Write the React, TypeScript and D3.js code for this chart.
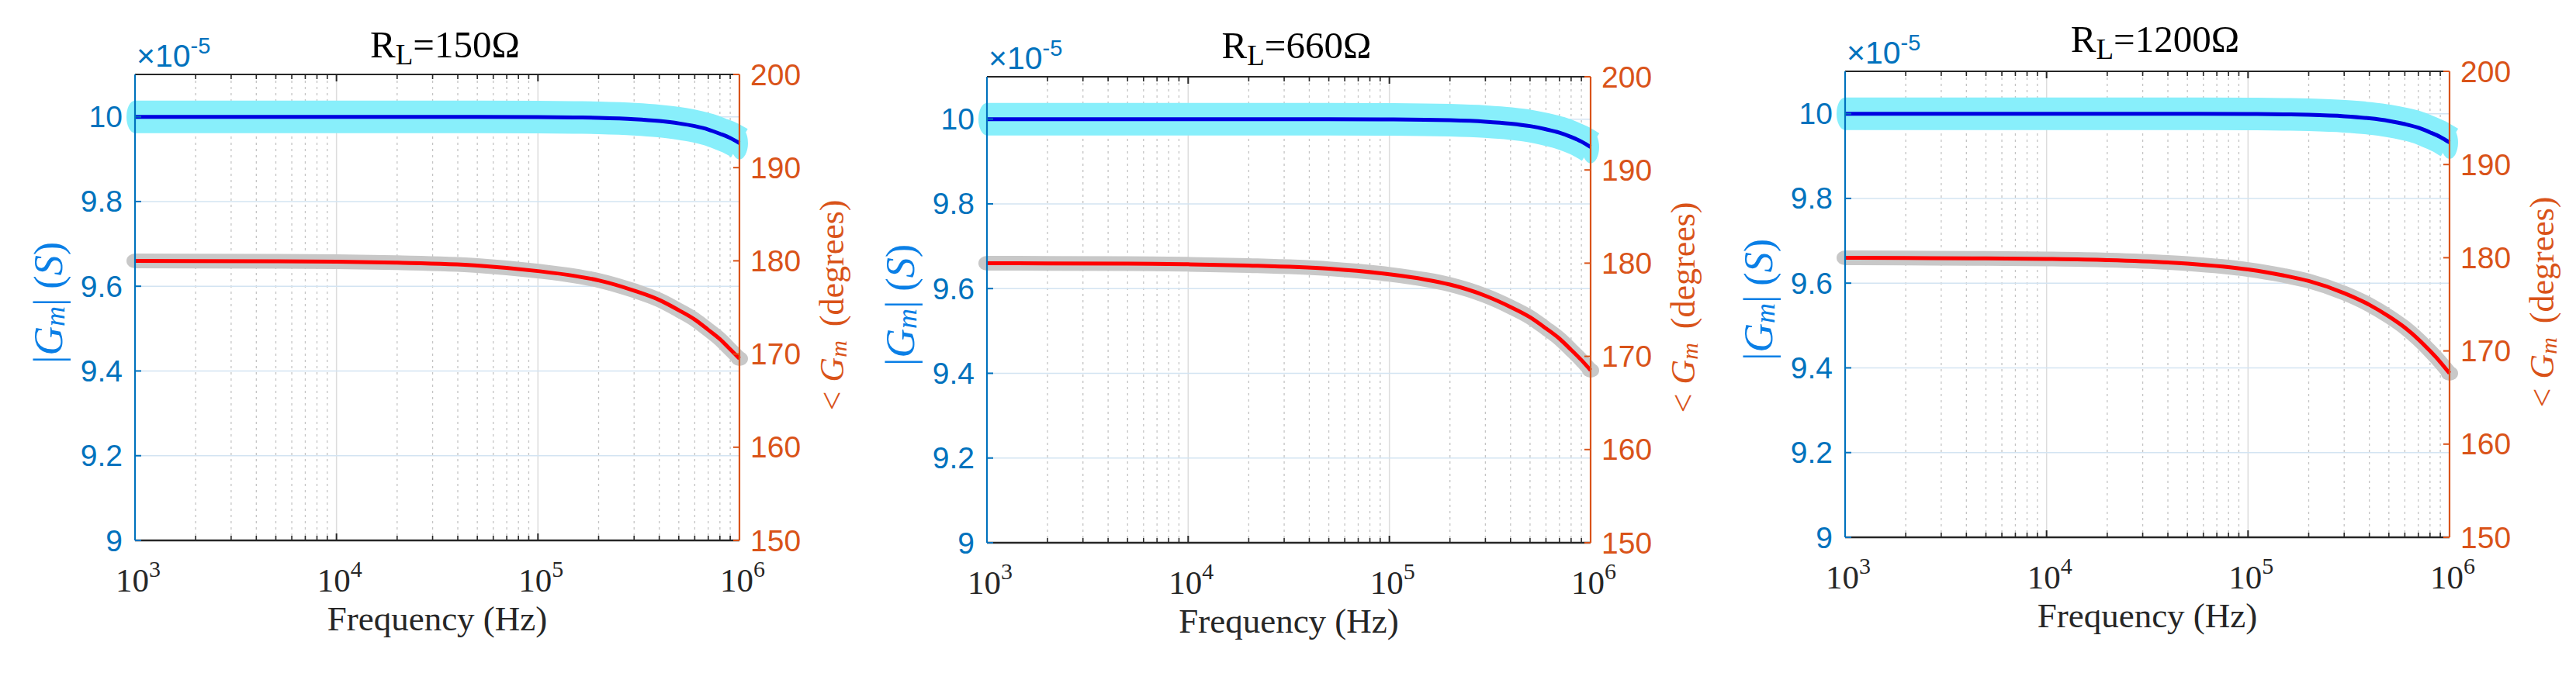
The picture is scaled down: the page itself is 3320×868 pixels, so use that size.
import React, { useEffect } from "react";
import * as d3 from "d3";

// ---------- data ----------
const freqs = [1e3, 2e3, 5e3, 1e4, 2e4, 5e4, 1e5, 1.5e5, 2e5, 3e5, 4e5, 5e5, 6e5, 7e5, 8e5, 9e5, 1e6];
const loadLabels = ["150", "660", "1200"];
// |Gm| in units of 1e-5 S
const mag150 = [10.0, 10.0, 10.0, 10.0, 10.0, 9.9998, 9.9994, 9.9986, 9.9975, 9.9944, 9.990, 9.9845, 9.978, 9.970, 9.960, 9.950, 9.938];
const mag660 = [10.0, 10.0, 10.0, 10.0, 10.0, 9.9998, 9.9993, 9.9985, 9.9974, 9.994, 9.9894, 9.9835, 9.976, 9.968, 9.958, 9.947, 9.934];
const mag1200 = [10.0, 10.0, 10.0, 10.0, 10.0, 9.9998, 9.9993, 9.9985, 9.9973, 9.9939, 9.9891, 9.983, 9.9755, 9.967, 9.956, 9.945, 9.932];
// phase in degrees
const ph150 = [179.99, 179.98, 179.95, 179.9, 179.8, 179.5, 178.9, 178.4, 177.9, 176.8, 175.8, 174.7, 173.7, 172.6, 171.6, 170.5, 169.5];
const ph660 = [179.99, 179.98, 179.94, 179.88, 179.75, 179.4, 178.8, 178.25, 177.7, 176.5, 175.3, 174.2, 173.0, 171.9, 170.7, 169.6, 168.5];
const ph1200 = [179.99, 179.97, 179.93, 179.87, 179.75, 179.37, 178.74, 178.1, 177.5, 176.2, 174.95, 173.7, 172.5, 171.25, 170.0, 168.8, 167.6];

const magTicks = [9, 9.2, 9.4, 9.6, 9.8, 10];
const phaseTicks = [150, 160, 170, 180, 190, 200];
const decadeExps = [3, 4, 5, 6];

const magSeries = [mag150, mag660, mag1200];
const phSeries = [ph150, ph660, ph1200];

// ---------- layout ----------
const W = 3320;
const H = 868;
const panels = [
  { left: 174, right: 953, top: 96, bottom: 697, titleY: 74 },
  { left: 1272, right: 2050, top: 99, bottom: 700, titleY: 75 },
  { left: 2378, right: 3157, top: 92, bottom: 693, titleY: 67 },
];

const C_LEFT = "#0072BD";
const C_LEFT_LABEL = "#0a7fe6";
const C_RIGHT = "#D95319";
const C_AX = "#262626";

function Panel({ idx }: { idx: number }) {
  const p = panels[idx];
  const x = d3.scaleLog().domain([1e3, 1e6]).range([p.left, p.right]);
  const yL = d3.scaleLinear().domain([9, 10.1]).range([p.bottom, p.top]);
  const yR = d3.scaleLinear().domain([150, 200]).range([p.bottom, p.top]);

  const magData = freqs.map((f, i) => ({ f, v: magSeries[idx][i] }));
  const phData = freqs.map((f, i) => ({ f, v: phSeries[idx][i] }));

  const magLine = d3
    .line<{ f: number; v: number }>()
    .x((d) => x(d.f))
    .y((d) => yL(d.v))
    .curve(d3.curveMonotoneX);
  const phLine = d3
    .line<{ f: number; v: number }>()
    .x((d) => x(d.f))
    .y((d) => yR(d.v))
    .curve(d3.curveMonotoneX);

  const majors = decadeExps.map((e) => Math.pow(10, e));
  const minors: number[] = [];
  for (let e = 3; e < 6; e++) {
    for (let k = 2; k <= 9; k++) minors.push(k * Math.pow(10, e));
  }

  const magFirst = magData[0];
  const magLast = magData[magData.length - 1];
  const phFirst = phData[0];
  const phLast = phData[phData.length - 1];

  const cx = (p.left + p.right) / 2;
  const cy = (p.top + p.bottom) / 2;

  return (
    <g>
      {/* title */}
      <text
        x={cx + 10}
        y={p.titleY}
        textAnchor="middle"
        fontFamily="'Liberation Serif', 'Times New Roman', serif"
        fontSize={49}
        fill="#000"
      >
        R
        <tspan fontSize={37} dy={9}>
          L
        </tspan>
        <tspan dy={-9}>={loadLabels[idx]}Ω</tspan>
      </text>

      {/* exponent label */}
      <text
        x={p.left + 2}
        y={p.top - 10}
        fontFamily="'Liberation Sans', Arial, sans-serif"
        fontSize={41}
        fill={C_LEFT}
      >
        ×10
        <tspan fontSize={29} dy={-17}>
          -5
        </tspan>
      </text>

      {/* minor vertical grid */}
      {minors.map((f) => (
        <line
          key={"mg" + f}
          x1={x(f)}
          x2={x(f)}
          y1={p.top}
          y2={p.bottom}
          stroke="#c4c4c4"
          strokeWidth={1.3}
          strokeDasharray="3,5"
        />
      ))}
      {/* major vertical grid */}
      {majors.map((f) => (
        <line key={"Mg" + f} x1={x(f)} x2={x(f)} y1={p.top} y2={p.bottom} stroke="#dcdcdc" strokeWidth={1.5} />
      ))}
      {/* horizontal grid */}
      {magTicks.map((t) => (
        <line key={"hg" + t} x1={p.left} x2={p.right} y1={yL(t)} y2={yL(t)} stroke="#d3e4f2" strokeWidth={1.5} />
      ))}

      {/* magnitude band + line */}
      <path d={magLine(magData) || ""} fill="none" stroke="#88EFFB" strokeWidth={42} />
      <ellipse cx={x(magFirst.f)} cy={yL(magFirst.v)} rx={11} ry={21} fill="#88EFFB" />
      <ellipse cx={x(magLast.f)} cy={yL(magLast.v)} rx={11} ry={21} fill="#88EFFB" />
      <path d={magLine(magData) || ""} fill="none" stroke="#0000E0" strokeWidth={5} />

      {/* phase band + line */}
      <path d={phLine(phData) || ""} fill="none" stroke="#C8C8C8" strokeWidth={19} />
      <ellipse cx={x(phFirst.f)} cy={yR(phFirst.v)} rx={11} ry={9.5} fill="#C8C8C8" />
      <ellipse cx={x(phLast.f)} cy={yR(phLast.v)} rx={11} ry={9.5} fill="#C8C8C8" />
      <path d={phLine(phData) || ""} fill="none" stroke="#FF0000" strokeWidth={5} />

      {/* top & bottom axes */}
      <line x1={p.left} x2={p.right} y1={p.top} y2={p.top} stroke={C_AX} strokeWidth={2.2} />
      <line x1={p.left} x2={p.right} y1={p.bottom} y2={p.bottom} stroke={C_AX} strokeWidth={2.6} />
      {majors.map((f) => (
        <g key={"mt" + f}>
          <line x1={x(f)} x2={x(f)} y1={p.bottom} y2={p.bottom - 9} stroke={C_AX} strokeWidth={2} />
          <line x1={x(f)} x2={x(f)} y1={p.top} y2={p.top + 9} stroke={C_AX} strokeWidth={2} />
        </g>
      ))}
      {minors.map((f) => (
        <g key={"nt" + f}>
          <line x1={x(f)} x2={x(f)} y1={p.bottom} y2={p.bottom - 6} stroke={C_AX} strokeWidth={1.6} />
          <line x1={x(f)} x2={x(f)} y1={p.top} y2={p.top + 6} stroke={C_AX} strokeWidth={1.6} />
        </g>
      ))}

      {/* left axis */}
      <line x1={p.left} x2={p.left} y1={p.top} y2={p.bottom} stroke={C_LEFT} strokeWidth={2.2} />
      {magTicks.map((t) => (
        <g key={"lt" + t}>
          <line x1={p.left} x2={p.left + 8} y1={yL(t)} y2={yL(t)} stroke={C_LEFT} strokeWidth={2} />
          <text
            x={p.left - 16}
            y={yL(t)}
            textAnchor="end"
            dominantBaseline="central"
            fontFamily="'Liberation Sans', Arial, sans-serif"
            fontSize={39}
            fill={C_LEFT}
          >
            {String(t)}
          </text>
        </g>
      ))}

      {/* right axis */}
      <line x1={p.right} x2={p.right} y1={p.top} y2={p.bottom} stroke={C_RIGHT} strokeWidth={2.2} />
      {phaseTicks.map((t) => (
        <g key={"rt" + t}>
          <line x1={p.right} x2={p.right - 8} y1={yR(t)} y2={yR(t)} stroke={C_RIGHT} strokeWidth={2} />
          <text
            x={p.right + 14}
            y={yR(t)}
            textAnchor="start"
            dominantBaseline="central"
            fontFamily="'Liberation Sans', Arial, sans-serif"
            fontSize={39}
            fill={C_RIGHT}
          >
            {String(t)}
          </text>
        </g>
      ))}

      {/* x tick labels */}
      {decadeExps.map((e) => (
        <text
          key={"xl" + e}
          x={x(Math.pow(10, e)) + 4}
          y={p.bottom + 66}
          textAnchor="middle"
          fontFamily="'Liberation Serif', 'Times New Roman', serif"
          fontSize={43}
          fill={C_AX}
        >
          10
          <tspan fontSize={30} dy={-19}>
            {String(e)}
          </tspan>
        </text>
      ))}

      {/* x label */}
      <text
        x={cx}
        y={p.bottom + 116}
        textAnchor="middle"
        fontFamily="'Liberation Serif', 'Times New Roman', serif"
        fontSize={45}
        fill={C_AX}
      >
        Frequency (Hz)
      </text>

      {/* left y label */}
      <text
        transform={`translate(${p.left - 112},${cy - 6}) rotate(-90)`}
        textAnchor="middle"
        dominantBaseline="central"
        fontFamily="'Liberation Serif', 'Times New Roman', serif"
        fontSize={52}
        fill={C_LEFT_LABEL}
      >
        |<tspan fontStyle="italic">G</tspan>
        <tspan fontStyle="italic" fontSize={36} dy={9}>
          m
        </tspan>
        <tspan dy={-9}>|</tspan>
        <tspan dx={12}>(</tspan>
        <tspan fontStyle="italic">S</tspan>)
      </text>

      {/* right y label */}
      <text
        transform={`translate(${p.right + 119},${cy - 3}) rotate(-90)`}
        textAnchor="middle"
        dominantBaseline="central"
        fontFamily="'Liberation Serif', 'Times New Roman', serif"
        fontSize={44}
        fill={C_RIGHT}
      >
        {"<"}
        <tspan dx={12} fontStyle="italic">
          G
        </tspan>
        <tspan fontStyle="italic" fontSize={30} dy={8}>
          m
        </tspan>
        <tspan dx={18} dy={-8}>
          (degrees)
        </tspan>
      </text>
    </g>
  );
}

export default function App() {
  useEffect(() => {
    document.body.style.margin = "0";
  }, []);
  return (
    <svg width={W} height={H} viewBox={`0 0 ${W} ${H}`} style={{ display: "block", background: "#fff" }}>
      <rect x={0} y={0} width={W} height={H} fill="#fff" />
      {panels.map((_, i) => (
        <Panel key={i} idx={i} />
      ))}
    </svg>
  );
}
